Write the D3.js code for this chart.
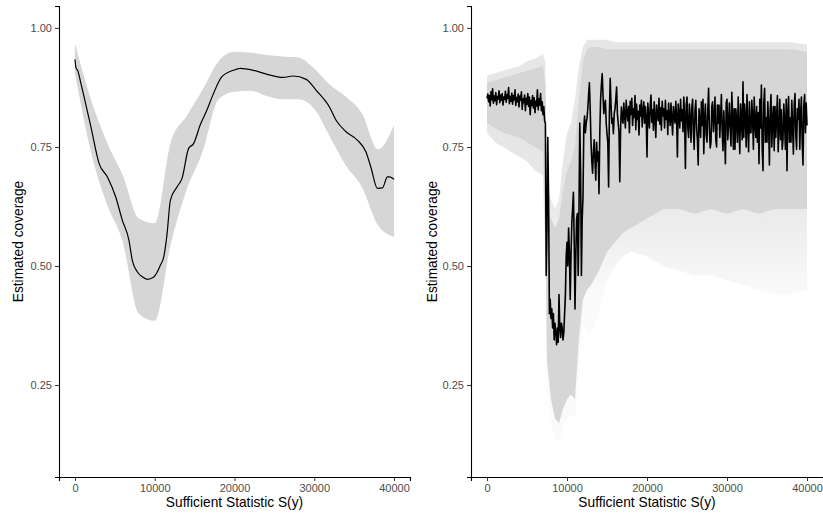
<!doctype html>
<html>
<head>
<meta charset="utf-8">
<script src="https://d3js.org/d3.v7.min.js"></script>
<style>
  body { margin: 0; background: #fff; }
  text { font-family: "Liberation Sans", Arial, sans-serif; }
</style>
</head>
<body>
<svg width="823" height="519"></svg>
<script>

// tick labels
var xTicks = [0, 10000, 20000, 30000, 40000];
var yTicks = [0.25, 0.50, 0.75, 1.00];

// left panel: smoothed estimate
var leftMeanX = [0, 150, 330, 750, 2000, 3030, 4070, 5110, 5940, 6770, 7190, 7810, 8400, 9050, 9890,
    10720, 11130, 11550, 11960, 12790, 13420, 14250, 14870, 15700, 16530, 17360, 18400, 19850, 20690, 22350,
    24010, 26090, 27330, 28990, 30240, 31900, 32730, 33980, 35430, 36470, 37090, 37920, 38550, 39170, 39380, 40000];
var leftMeanY = [0.934, 0.915, 0.911, 0.883, 0.792, 0.715, 0.687, 0.645, 0.596, 0.554, 0.512, 0.488, 0.478, 0.472, 0.477,
    0.502, 0.519, 0.568, 0.638, 0.666, 0.684, 0.747, 0.757, 0.796, 0.827, 0.862, 0.897, 0.911, 0.915, 0.911,
    0.903, 0.896, 0.899, 0.892, 0.869, 0.834, 0.806, 0.782, 0.764, 0.740, 0.708, 0.663, 0.664, 0.687, 0.687, 0.682];

// left panel: band
var leftBandX = [0, 2000, 4000, 6000, 8000, 10000, 12000, 14000, 16000, 18000, 20000,
    22000, 24000, 26000, 28000, 30000, 32000, 34000, 36000, 38000, 40000];
var leftBandLo = [0.905, 0.74, 0.63, 0.55, 0.40, 0.385, 0.545, 0.66, 0.74, 0.85, 0.866,
    0.868, 0.857, 0.85, 0.85, 0.83, 0.77, 0.71, 0.665, 0.585, 0.561];
var leftBandHi = [0.967, 0.85, 0.76, 0.69, 0.60, 0.59, 0.76, 0.815, 0.87, 0.93, 0.95,
    0.948, 0.943, 0.94, 0.938, 0.915, 0.88, 0.855, 0.82, 0.745, 0.796];

// right panel: raw estimate, one value every 100 units of S(y)
var rightStep = 100;
var rightMean = [
    // 0 - 7200
    0.852, 0.861, 0.845, 0.858, 0.836, 0.866, 0.849, 0.872, 0.842, 0.857,
    0.847, 0.864, 0.839, 0.856, 0.851, 0.868, 0.843, 0.859, 0.848, 0.862,
    0.838, 0.855, 0.850, 0.867, 0.844, 0.860, 0.852, 0.875, 0.841, 0.856,
    0.846, 0.863, 0.840, 0.858, 0.849, 0.870, 0.837, 0.854, 0.845, 0.861,
    0.834, 0.857, 0.848, 0.866, 0.829, 0.851, 0.843, 0.859, 0.826, 0.852,
    0.840, 0.862, 0.835, 0.855, 0.818, 0.848, 0.837, 0.858, 0.832, 0.853,
    0.822, 0.846, 0.836, 0.870, 0.828, 0.851, 0.838, 0.862, 0.826, 0.845,
    0.818, 0.835, 0.805,
    // 7300 - 16900
    0.80, 0.48, 0.58, 0.77, 0.64, 0.40, 0.43, 0.39, 0.41, 0.37,
    0.40, 0.345, 0.38, 0.36, 0.335, 0.37, 0.34, 0.44, 0.37, 0.35,
    0.38, 0.37, 0.345, 0.36, 0.40, 0.44, 0.52, 0.55, 0.50, 0.58,
    0.53, 0.43, 0.52, 0.59, 0.62, 0.655, 0.55, 0.41, 0.52, 0.60,
    0.61, 0.48, 0.62, 0.80, 0.70, 0.48, 0.60, 0.645, 0.79, 0.815,
    0.78, 0.80, 0.81, 0.83, 0.86, 0.885, 0.83, 0.76, 0.72, 0.695,
    0.74, 0.765, 0.72, 0.68, 0.76, 0.72, 0.74, 0.652, 0.78, 0.85,
    0.88, 0.904, 0.86, 0.82, 0.84, 0.848, 0.80, 0.778, 0.76, 0.666,
    0.82, 0.894, 0.84, 0.80, 0.81, 0.778, 0.82, 0.83, 0.85, 0.876,
    0.82, 0.80, 0.78, 0.677, 0.79, 0.834, 0.81,
    // 17000 - 40000
    0.800, 0.842, 0.815, 0.790, 0.848, 0.822, 0.805, 0.835, 0.780, 0.846,
    0.818, 0.852, 0.795, 0.830, 0.812, 0.858, 0.786, 0.840, 0.808, 0.825,
    0.775, 0.838, 0.815, 0.848, 0.792, 0.826, 0.845, 0.800, 0.835, 0.810,
    0.729, 0.842, 0.818, 0.790, 0.836, 0.859, 0.802, 0.828, 0.785, 0.845,
    0.812, 0.770, 0.838, 0.820, 0.805, 0.852, 0.798, 0.832, 0.785, 0.846,
    0.815, 0.830, 0.790, 0.848, 0.808, 0.826, 0.776, 0.842, 0.814, 0.795,
    0.842, 0.808, 0.775, 0.835, 0.820, 0.800, 0.846, 0.812, 0.729, 0.840,
    0.818, 0.790, 0.850, 0.805, 0.828, 0.782, 0.855, 0.812, 0.705, 0.838,
    0.855, 0.790, 0.770, 0.840, 0.812, 0.760, 0.832, 0.850, 0.780, 0.745,
    0.826, 0.848, 0.790, 0.765, 0.712, 0.830, 0.805, 0.770, 0.845, 0.795,
    0.850, 0.736, 0.812, 0.840, 0.775, 0.760, 0.828, 0.873, 0.790, 0.748,
    0.760, 0.835, 0.845, 0.782, 0.810, 0.855, 0.765, 0.750, 0.838, 0.800,
    0.838, 0.770, 0.815, 0.860, 0.782, 0.742, 0.826, 0.780, 0.715, 0.842,
    0.850, 0.765, 0.800, 0.842, 0.790, 0.752, 0.865, 0.820, 0.745, 0.830,
    0.745, 0.830, 0.808, 0.760, 0.855, 0.792, 0.736, 0.840, 0.810, 0.765,
    0.887, 0.770, 0.840, 0.812, 0.750, 0.860, 0.795, 0.740, 0.845, 0.780,
    0.780, 0.848, 0.812, 0.745, 0.855, 0.800, 0.770, 0.835, 0.760, 0.822,
    0.715, 0.850, 0.790, 0.880, 0.745, 0.700, 0.842, 0.873, 0.760, 0.812,
    0.760, 0.845, 0.798, 0.712, 0.826, 0.860, 0.750, 0.808, 0.835, 0.742,
    0.835, 0.770, 0.812, 0.858, 0.740, 0.790, 0.850, 0.765, 0.828, 0.745,
    0.765, 0.840, 0.800, 0.745, 0.850, 0.700, 0.822, 0.856, 0.760, 0.812,
    0.760, 0.848, 0.790, 0.735, 0.838, 0.862, 0.775, 0.745, 0.830, 0.808,
    0.850, 0.745, 0.820, 0.855, 0.760, 0.712, 0.836, 0.860, 0.780, 0.842,
    0.795];

// right panel: band (solid core and faded outer edge)
var rightBandX = [0, 1000, 2000, 3000, 4000, 5000, 6000, 7000, 7300,
    7500, 8000, 8500, 9000, 9500, 10000, 10500, 11000, 11500, 12000, 12500,
    13000, 14000, 15000, 16000, 17000, 18000,
    20000, 22000, 24000, 26000, 28000, 30000, 32000, 34000, 36000, 38000, 40000];
var rightInnerLo = [0.80, 0.79, 0.78, 0.775, 0.77, 0.76, 0.75, 0.74, 0.55,
    0.30, 0.22, 0.18, 0.17, 0.20, 0.22, 0.23, 0.22, 0.35, 0.43, 0.45,
    0.46, 0.49, 0.53, 0.55, 0.57, 0.58,
    0.60, 0.62, 0.62, 0.61, 0.62, 0.61, 0.62, 0.61, 0.62, 0.62, 0.62];
var rightInnerHi = [0.885, 0.89, 0.895, 0.90, 0.905, 0.91, 0.915, 0.92, 0.88,
    0.62, 0.60, 0.58, 0.60, 0.66, 0.70, 0.72, 0.75, 0.85, 0.93, 0.955,
    0.96, 0.96, 0.955, 0.955, 0.955, 0.955,
    0.955, 0.955, 0.955, 0.955, 0.955, 0.955, 0.955, 0.955, 0.955, 0.955, 0.95];
var rightOuterLo = [0.78, 0.76, 0.75, 0.74, 0.73, 0.72, 0.70, 0.69, 0.50,
    0.25, 0.17, 0.14, 0.13, 0.16, 0.18, 0.19, 0.18, 0.28, 0.38, 0.36,
    0.36, 0.40, 0.47, 0.50, 0.52, 0.53,
    0.52, 0.50, 0.49, 0.48, 0.48, 0.47, 0.46, 0.45, 0.44, 0.44, 0.45];
var rightOuterHi = [0.90, 0.905, 0.91, 0.915, 0.92, 0.93, 0.935, 0.945, 0.93,
    0.67, 0.64, 0.62, 0.64, 0.72, 0.78, 0.80, 0.85, 0.92, 0.96, 0.975,
    0.975, 0.975, 0.975, 0.97, 0.97, 0.97,
    0.97, 0.97, 0.97, 0.97, 0.97, 0.97, 0.97, 0.97, 0.97, 0.97, 0.965];

var svg = d3.select("svg");
var top_ = 6, bottom = 477;
var yScale = d3.scaleLinear().domain([0.057, 1.046]).range([bottom, top_]);

// fade for the outer part of the right band
var grad = svg.append("defs").append("linearGradient")
    .attr("id", "fade")
    .attr("gradientUnits", "userSpaceOnUse")
    .attr("x1", 0).attr("x2", 0)
    .attr("y1", yScale(0.66)).attr("y2", yScale(0.44));
grad.append("stop").attr("offset", 0).attr("stop-color", "#d6d6d6").attr("stop-opacity", 0.6);
grad.append("stop").attr("offset", 1).attr("stop-color", "#d6d6d6").attr("stop-opacity", 0.12);

function drawPanel(left, right, titleX) {
    var xScale = d3.scaleLinear().domain([-2000, 42000]).range([left, right]);
    var g = svg.append("g");

    g.append("g")
        .attr("transform", "translate(0," + bottom + ")")
        .call(d3.axisBottom(xScale).tickValues(xTicks).tickSizeOuter(0).tickSize(4).tickPadding(3)
            .tickFormat(function(d) { return d; }))
        .call(styleAxis);

    g.append("g")
        .attr("transform", "translate(" + left + ",0)")
        .call(d3.axisLeft(yScale).tickValues(yTicks).tickSizeOuter(0).tickSize(4).tickPadding(3)
            .tickFormat(d3.format(".2f")))
        .call(styleAxis);

    g.append("text")
        .attr("x", (left + right) / 2)
        .attr("y", 507)
        .attr("text-anchor", "middle")
        .style("font-size", "13.75px")
        .text("Sufficient Statistic S(y)");

    g.append("text")
        .attr("transform", "translate(" + titleX + "," + ((top_ + bottom) / 2) + ") rotate(-90)")
        .attr("text-anchor", "middle")
        .style("font-size", "13.75px")
        .text("Estimated coverage");

    return { g: g, x: xScale };
}

function styleAxis(sel) {
    sel.select(".domain").attr("stroke", "#000").attr("stroke-width", 1.1);
    sel.selectAll(".tick line").attr("stroke", "#333").attr("stroke-width", 1);
    sel.selectAll(".tick text").attr("fill", "#4d4d4d").style("font-size", "11px")
        .style("font-family", "'Liberation Sans', Arial, sans-serif");
}

// left panel
var L = drawPanel(59, 410, 23);
var leftBand = leftBandX.map(function(x, i) { return { x: x, lo: leftBandLo[i], hi: leftBandHi[i] }; });
L.g.insert("path", ":first-child")
    .datum(leftBand)
    .attr("fill", "#d6d6d6")
    .attr("d", d3.area().curve(d3.curveMonotoneX).x(function(d) { return L.x(d.x); })
        .y0(function(d) { return yScale(d.lo); })
        .y1(function(d) { return yScale(d.hi); }));
L.g.append("path")
    .datum(leftMeanX.map(function(x, i) { return { x: x, y: leftMeanY[i] }; }))
    .attr("fill", "none")
    .attr("stroke", "#000")
    .attr("stroke-width", 1.2)
    .attr("d", d3.line().curve(d3.curveMonotoneX).x(function(d) { return L.x(d.x); }).y(function(d) { return yScale(d.y); }));

// right panel
var R = drawPanel(471, 823, 437);
var rightBand = rightBandX.map(function(x, i) {
    return { x: x, ilo: rightInnerLo[i], ihi: rightInnerHi[i], olo: rightOuterLo[i], ohi: rightOuterHi[i] };
});
R.g.insert("path", ":first-child")
    .datum(rightBand)
    .attr("fill", "#d6d6d6")
    .attr("d", d3.area().x(function(d) { return R.x(d.x); })
        .y0(function(d) { return yScale(d.ilo); })
        .y1(function(d) { return yScale(d.ihi); }));
R.g.insert("path", ":first-child")
    .datum(rightBand)
    .attr("fill", "url(#fade)")
    .attr("d", d3.area().x(function(d) { return R.x(d.x); })
        .y0(function(d) { return yScale(d.olo); })
        .y1(function(d) { return yScale(d.ohi); }));
R.g.append("path")
    .datum(rightMean)
    .attr("fill", "none")
    .attr("stroke", "#000")
    .attr("stroke-width", 1.6)
    .attr("stroke-linejoin", "round")
    .attr("d", d3.line().x(function(d, i) { return R.x(i * rightStep); }).y(function(d) { return yScale(d); }));

</script>
</body>
</html>
